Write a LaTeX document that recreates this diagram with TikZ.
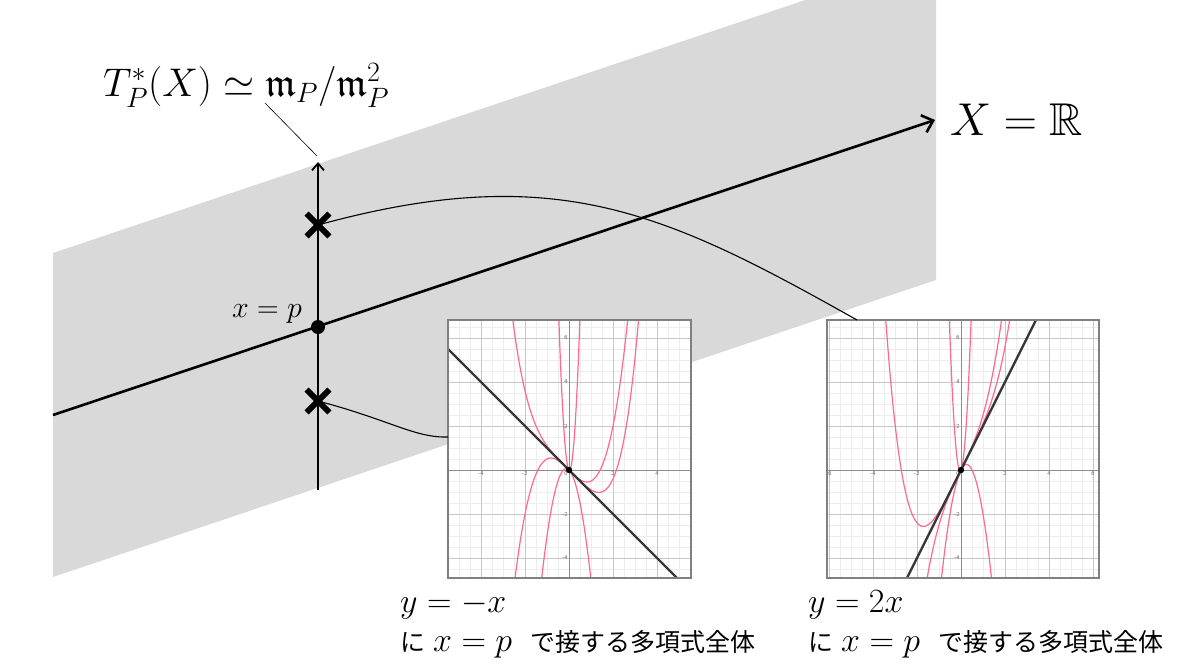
\RequirePackage{fix-cm}
\documentclass[tikz,border=0pt]{standalone}
\usepackage{fontspec}
\usepackage{amssymb}
\newfontfamily\cjk{Noto Sans CJK JP}
\usetikzlibrary{arrows.meta,shapes.misc}
\definecolor{band}{RGB}{217,217,217}
\definecolor{curvepink}{RGB}{255,105,145}
\definecolor{tanline}{RGB}{55,55,55}
\begin{document}
\begin{tikzpicture}[x=1pt,y=-1pt,
  crossmark/.style={cross out,draw,line width=5.8pt,minimum size=17pt,inner sep=0pt},
  gridminor/.style={draw=black!7,line width=0.5pt},
  gridmajor/.style={draw=black!22,line width=0.8pt},
  axisline/.style={draw=black!45,line width=1pt},
  pinkcurve/.style={draw=curvepink,line width=1.2pt},
  tangent/.style={draw=tanline,line width=2.4pt},
  ticklbl/.style={font=\sffamily\fontsize{6}{7}\selectfont,text=black!60,inner sep=1.2pt},
  frame/.style={draw=black!50,line width=1.2pt},
  link/.style={line width=1.1pt}]
\useasboundingbox (0,0) rectangle (1200,670);
% gray band
\begin{scope}
\clip (0,0) rectangle (1200,670);
\fill[band] (53,253) -- (936,-44) -- (936,280) -- (53,577) -- cycle;
\end{scope}
% main axis
\coordinate (xl) at (53,415);
\coordinate (xr) at (935,120);
\draw[line width=2.6pt,-{Straight Barb[length=10pt,width=18pt]}] (xl) -- (xr);
\node[anchor=west,inner sep=0pt,font=\fontsize{46}{52}\selectfont] (xlabel) at (950,120) {$X=\mathbb{R}$};
% vertical line
\coordinate (vb) at (318,490);
\coordinate (vt) at (318,162);
\draw[line width=1.8pt,-{Straight Barb[length=7pt,width=12pt]}] (vb) -- (vt);
% label T
\node[anchor=base west,inner sep=0pt,font=\fontsize{40}{48}\selectfont] (tlabel) at (103,96) {$T_P^*(X)\simeq\mathfrak{m}_P/\mathfrak{m}_P^2$};
\coordinate (lt) at (265,103);
\coordinate (le) at (317,156);
\draw[line width=0.6pt] (lt) -- (le);
% x=p
\node[anchor=base west,inner sep=0pt,font=\fontsize{30}{36}\selectfont] (xp) at (232,317) {$x=p$};
% plot boxes
\coordinate (L1) at (448,320);
\coordinate (L2) at (691,578);
\coordinate (R1) at (827,320);
\coordinate (R2) at (1099,578);
\fill[white] (L1) rectangle (L2);
\fill[white] (R1) rectangle (R2);
% left plot
\begin{scope}[shift={(569pt,-470pt)},x=22pt,y=22pt]
\clip (-5.5,-4.909) rectangle (5.545,6.818);
\draw[gridminor] (-6,-5) grid[step={(0.5,0.5)}] (6,7);
\draw[gridmajor] (-6,-6) grid[step={(2,2)}] (6,8);
\draw[axisline] (-6,0) -- (6,0);
\draw[axisline] (0,-5) -- (0,7);
\foreach \t in {-4,-2,2,4} \node[ticklbl,anchor=north] at (\t,0) {\t};
\node[ticklbl,anchor=north east] at (0,0) {0};
\foreach \t in {-4,-2,2,4,6} \node[ticklbl,anchor=east] at (0,\t) {\t};
\draw[pinkcurve,domain=-2.7:3.3,samples=160,smooth] plot (\x,{-\x+0.1*\x*\x*\x*\x});
\draw[pinkcurve,domain=-2.5:2.8,samples=160,smooth] plot (\x,{-\x+0.5*\x*\x*\x});
\draw[pinkcurve,domain=-0.5:0.52,samples=100,smooth] plot (\x,{-\x+30*\x*\x});
\draw[pinkcurve,domain=-1.3:1.05,samples=100,smooth] plot (\x,{-\x-4*\x*\x});
\draw[tangent] (-5.6,5.6) -- (5.6,-5.6);
\fill (0,0) circle (3.2pt);
\end{scope}
\draw[frame] (L1) rectangle (L2);
% right plot
\begin{scope}[shift={(961pt,-470pt)},x=22pt,y=22pt]
\clip (-6.09,-4.909) rectangle (6.27,6.818);
\draw[gridminor] (-7,-5) grid[step={(0.5,0.5)}] (7,7);
\draw[gridmajor] (-8,-6) grid[step={(2,2)}] (8,8);
\draw[axisline] (-7,0) -- (7,0);
\draw[axisline] (0,-5) -- (0,7);
\foreach \t in {-6,-4,-2,2,4,6} \node[ticklbl,anchor=north] at (\t,0) {\t};
\node[ticklbl,anchor=north east] at (0,0) {0};
\foreach \t in {-4,-2,2,4,6} \node[ticklbl,anchor=east] at (0,\t) {\t};
\draw[pinkcurve,domain=-3.6:2.3,samples=160,smooth] plot (\x,{2*\x+0.1*\x*\x*\x*\x});
\draw[pinkcurve,domain=-1.7:1.95,samples=160,smooth] plot (\x,{2*\x+0.5*\x*\x*\x});
\draw[pinkcurve,domain=-0.57:0.48,samples=100,smooth] plot (\x,{2*\x+28*\x*\x});
\draw[pinkcurve,domain=-0.95:1.45,samples=100,smooth] plot (\x,{2*\x-4*\x*\x});
\draw[tangent] (-2.6,-5.2) -- (3.5,7);
\fill (0,0) circle (3.2pt);
\end{scope}
\draw[frame] (R1) rectangle (R2);
% crosses and point
\coordinate (c1pos) at (318,225);
\coordinate (c2pos) at (318,401);
\coordinate (rt) at (857,320);
\coordinate (ll) at (448,437);
\draw[link] (c1pos) .. controls (555,160) and (665,212) .. (rt);
\draw[link] (c2pos) .. controls (390,420) and (415,438) .. (ll);
\node[crossmark] (c1) at (c1pos) {};
\node[crossmark] (c2) at (c2pos) {};
\node[circle,fill,inner sep=0pt,minimum size=14pt] (P) at (318,327) {};
% bottom labels
\node[anchor=base west,inner sep=0pt,font=\fontsize{34}{40}\selectfont] (ly1) at (400,612) {$y=-x$};
\node[anchor=base west,inner sep=0pt] (lj1) at (400,651) {{\cjk\fontsize{25}{30}\selectfont に}\hspace{8pt}{\fontsize{34}{40}\selectfont$x=p$}\hspace{18pt}{\cjk\fontsize{25}{30}\selectfont で接する多項式全体}};
\node[anchor=base west,inner sep=0pt,font=\fontsize{34}{40}\selectfont] (ly2) at (808,612) {$y=2x$};
\node[anchor=base west,inner sep=0pt] (lj2) at (808,651) {{\cjk\fontsize{25}{30}\selectfont に}\hspace{8pt}{\fontsize{34}{40}\selectfont$x=p$}\hspace{18pt}{\cjk\fontsize{25}{30}\selectfont で接する多項式全体}};
\end{tikzpicture}
\end{document}
